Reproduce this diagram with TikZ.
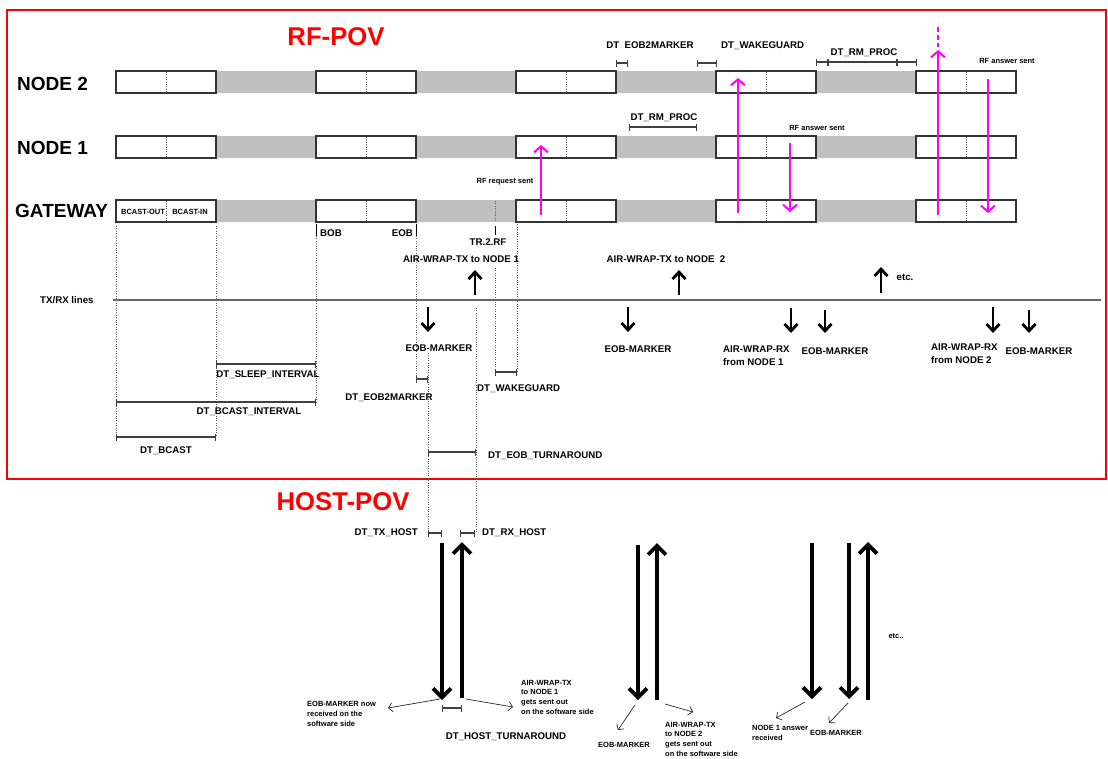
\documentclass[tikz,border=0pt]{standalone}
\usepackage{fontspec}
\setmainfont{Liberation Sans}
\usetikzlibrary{arrows.meta}

\definecolor{rfpink}{RGB}{255,0,255}
\definecolor{gapgray}{RGB}{192,192,192}

\tikzset{
  lbl/.style={inner sep=0pt, font=\fontsize{9.7}{13}\selectfont\bfseries},
  small/.style={inner sep=0pt, align=left, font=\fontsize{7.5}{9.6}\selectfont\bfseries},
  rowname/.style={inner sep=0pt, anchor=base west, font=\fontsize{19}{22}\selectfont\bfseries},
  pov/.style={inner sep=0pt, anchor=base, text=red, font=\fontsize{25.7}{30}\selectfont\bfseries},
  wbox/.style={draw=black!80, line width=1.3pt, fill=white},
  gbox/.style={fill=gapgray},
  vdot/.style={black!65, line width=0.8pt, dash pattern=on 0.8pt off 1.6pt},
  dtbar/.style={black!75, line width=1.2pt, arrows={Bar[width=7pt]-Bar[width=7pt]}},
  rfsig/.style={rfpink, line width=2pt, -{Straight Barb[length=6pt,width=14pt]}},
  txrx/.style={line width=2.8pt, -{Straight Barb[length=7pt,width=13pt]}},
  hostsig/.style={line width=3.8pt, -{Straight Barb[length=9pt,width=18pt]}},
  callout/.style={black!85, line width=0.7pt, -{Straight Barb[length=4pt,width=9pt]}},
}

\begin{document}
\begin{tikzpicture}[x=1pt, y=-1pt]
    \useasboundingbox (0,0) rectangle (1108,758);

    % --- 1. frame and titles ---
    \draw[red, line width=2pt] (7,10) rectangle (1106,479);
    \node[pov] (rfpov) at (336,45) {RF-POV};
    \node[pov] (hostpov) at (343,510) {HOST-POV};

    % --- 2. time lines of the stations ---
    \node[rowname] (node2) at (17,90) {NODE 2};
    \node[rowname] (node1) at (17,154) {NODE 1};
    \node[rowname] (gateway) at (15,217) {GATEWAY};

    \foreach \t in {71, 136, 200} {
        \foreach \k in {0,...,3}
            \fill[gbox] ({217+200*\k},\t) rectangle ({316+200*\k},\t+22);
        \foreach \k in {0,...,4} {
            \draw[wbox] ({116+200*\k},\t) rectangle ({216+200*\k},\t+22);
            \draw[vdot] ({166+200*\k},\t+1) -- ({166+200*\k},\t+21);
        }
    }
    \draw[vdot] (495,201) -- (495,221); % TR.2.RF in the gap
    \node[small, anchor=base] (bcastout) at (143,214) {BCAST-OUT};
    \node[small, anchor=base] (bcastin) at (190,214) {BCAST-IN};

    % --- 3. marks under the gateway ---
    \draw[line width=1pt] (316,224) -- (316,236);
    \draw[line width=1pt] (416,224) -- (416,236);
    \draw[line width=1pt] (495,226) -- (495,235);
    \node[lbl, anchor=base west] (bob) at (320,236) {BOB};
    \node[lbl, anchor=base east] (eob) at (413,236) {EOB};
    \node[lbl, anchor=base] (tr2rf) at (488,245) {TR.2.RF};

    \draw[vdot] (116,226) -- (116,437);
    \draw[vdot] (216,226) -- (216,437);
    \draw[vdot] (316,236) -- (316,402);
    \draw[vdot] (416,236) -- (416,379);
    \draw[vdot] (428,353) -- (428,533);
    \draw[vdot] (476,308) -- (476,533);
    \draw[vdot] (495,268) -- (495,372);
    \draw[vdot] (517,222) -- (517,372);

    % --- 4. TX/RX line and its events ---
    \draw[black!60, line width=1.6pt] (113,300) -- (1101,300);
    \node[lbl, anchor=base west] (txrx) at (40,303) {TX/RX lines};

    \foreach \x/\a/\b in {475/295/270, 679/295/270, 881/293/267}
        \draw[txrx] (\x,\a) -- (\x,\b);
    \foreach \x/\a/\b in {428/307/332, 628/307/332, 791/308/333, 825/310/333, 993/307/333, 1029/310/333}
        \draw[txrx] (\x,\a) -- (\x,\b);

    \node[lbl, anchor=base] (tx1) at (461,262.5) {AIR-WRAP-TX to NODE 1};
    \node[lbl, anchor=base] (tx2) at (666,262.5) {AIR-WRAP-TX to NODE\ \ 2};
    \node[lbl, anchor=base] (etc1) at (905,280) {etc.};
    \node[lbl, anchor=base] (eobm1) at (439,351) {EOB-MARKER};
    \node[lbl, anchor=base] (eobm2) at (638,352) {EOB-MARKER};
    \node[lbl, anchor=base] (eobm3) at (835,354) {EOB-MARKER};
    \node[lbl, anchor=base] (eobm4) at (1039,354) {EOB-MARKER};
    \node[lbl, align=left, anchor=north west] (rx1) at (723,345.5) {AIR-WRAP-RX\\from NODE 1};
    \node[lbl, align=left, anchor=north west] (rx2) at (931,343.5) {AIR-WRAP-RX\\from NODE 2};

    % --- 5. time spans ---
    \draw[dtbar] (216,364) -- (316,364);
    \node[lbl, anchor=base] (dtsleep) at (268,377) {DT\_SLEEP\_INTERVAL};
    \draw[dtbar] (116,402) -- (316,402);
    \node[lbl, anchor=base] (dtbint) at (249,414) {DT\_BCAST\_INTERVAL};
    \draw[dtbar] (116,437) -- (216,437);
    \node[lbl, anchor=base] (dtbcast) at (166,453) {DT\_BCAST};
    \draw[dtbar] (416,379) -- (428,379);
    \node[lbl, anchor=base] (dteob2m) at (389,400) {DT\_EOB2MARKER};
    \draw[dtbar] (495,372) -- (517,372);
    \node[lbl, anchor=base west] (dtwake) at (477,391) {DT\_WAKEGUARD};
    \draw[dtbar] (428,452) -- (476,452);
    \node[lbl, anchor=base west] (dteobta) at (488,458) {DT\_EOB\_TURNAROUND};

    \draw[dtbar] (616,63) -- (628,63);
    \draw[dtbar] (697,63) -- (717,63);
    \node[lbl, anchor=base] (dteob2mtop) at (650,48.5) {DT\ \ EOB2MARKER};
    \node[lbl, anchor=base west] (dtwaketop) at (721,48.5) {DT\_WAKEGUARD};
    \draw[dtbar] (816,62) -- (917,62);
    \draw[black!75, line width=1.2pt] (828,58.5) -- (828,65.5);
    \draw[black!75, line width=1.2pt] (897,58.5) -- (897,65.5);
    \node[lbl, anchor=base] (dtrm2) at (864,55) {DT\_RM\_PROC};
    \draw[dtbar] (629,127) -- (697,127);
    \node[lbl, anchor=base] (dtrm1) at (664,120) {DT\_RM\_PROC};

    % --- 6. RF messages ---
    \draw[rfsig] (541,215) -- (541,145);
    \node[small, anchor=base] (rfreq) at (505,183.5) {RF request sent};
    \draw[rfsig] (738,213) -- (738,78);
    \draw[rfsig] (790,143) -- (790,212);
    \node[small, anchor=base] (rfans1) at (817,130) {RF answer sent};
    \draw[rfsig] (938,215) -- (938,50);
    \draw[rfpink, line width=2pt, dash pattern=on 5pt off 3pt] (938,27) -- (938,47);
    \draw[rfsig] (988,79) -- (988,213);
    \node[small, anchor=base] (rfans2) at (1007,63) {RF answer sent};

    % --- 7. host point of view ---
    \draw[dtbar] (428,533) -- (442,533);
    \node[lbl, anchor=base east] (dttxhost) at (418,535.5) {DT\_TX\_HOST};
    \draw[dtbar] (460,533) -- (475,533);
    \node[lbl, anchor=base west] (dtrxhost) at (482,535.5) {DT\_RX\_HOST};

    \draw[hostsig] (442,543) -- (442,700);
    \draw[hostsig] (462,698) -- (462,542);
    \draw[dtbar] (442,708) -- (462,708);
    \node[lbl, anchor=base] (dthostta) at (506,739.5) {DT\_HOST\_TURNAROUND};
    \draw[callout] (440,699) -- (388,708);
    \node[small, anchor=north west] (eobnow) at (307,701.5) {EOB-MARKER now\\received on the\\software side};
    \draw[callout] (466,699) -- (513,707);
    \node[small, anchor=north west] (txout1) at (521,680) {AIR-WRAP-TX\\to NODE 1\\gets sent out\\on the software side};

    \draw[hostsig] (638,545) -- (638,700);
    \draw[hostsig] (657,700) -- (657,543);
    \draw[callout] (635,705) -- (618,730);
    \node[small, anchor=base] (eobm5) at (624,747) {EOB-MARKER};
    \draw[callout] (665,704) -- (693,712);
    \node[small, anchor=north west] (txout2) at (665,722) {AIR-WRAP-TX\\to NODE 2\\gets sent out\\on the software side};

    \draw[hostsig] (812,543) -- (812,699);
    \draw[hostsig] (849,543) -- (849,699);
    \draw[hostsig] (868,700) -- (868,542);
    \draw[callout] (805,702) -- (776,718);
    \node[small, anchor=north west] (ansrx) at (752,725) {NODE 1 answer\\received};
    \draw[callout] (848,703) -- (829,723);
    \node[small, anchor=base] (eobm6) at (836,735) {EOB-MARKER};
    \node[small, anchor=base] (etc2) at (896,638) {etc..};

\end{tikzpicture}
\end{document}
